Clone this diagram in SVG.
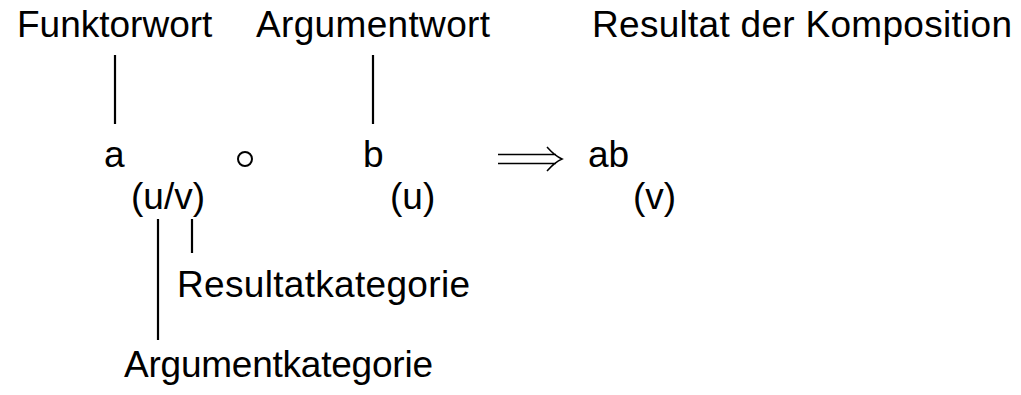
<svg xmlns="http://www.w3.org/2000/svg" width="1021" height="395" viewBox="0 0 1021 395">
  <style>
    text { font-family: "Liberation Sans", Arial, sans-serif; font-size: 37px; fill: #000; }
    .tick { stroke: #000; stroke-width: 2.2; fill: none; }
    .arrow { stroke: #000; stroke-width: 1.5; fill: none; }
  </style>
  <rect width="1021" height="395" fill="#fff"/>

  <!-- headings -->
  <g id="funktorwort"><text x="17" y="37">Funktorwort</text></g>
  <g id="argumentwort"><text x="256" y="37" textLength="234">Argumentwort</text></g>
  <g id="resultat"><text x="592" y="37" textLength="420">Resultat der Komposition</text></g>

  <!-- composition row -->
  <g id="a"><text x="104" y="167">a</text></g>
  <g id="op"><circle cx="245" cy="159" r="7" fill="none" stroke="#000" stroke-width="2"/></g>
  <g id="b"><text x="363" y="167">b</text></g>
  <g id="ab"><text x="588" y="167">ab</text></g>

  <!-- categories -->
  <g id="cat-uv"><text x="131" y="209">(u/v)</text></g>
  <g id="cat-u"><text x="390" y="209">(u)</text></g>
  <g id="cat-v"><text x="633" y="209">(v)</text></g>

  <g id="resultatkategorie"><text x="177" y="297" textLength="293">Resultatkategorie</text></g>
  <g id="argumentkategorie"><text x="124" y="377" textLength="309">Argumentkategorie</text></g>

  <!-- connectors -->
  <g id="connectors">
    <line class="tick" x1="115" y1="55" x2="115" y2="124"/>
    <line class="tick" x1="373" y1="55" x2="373" y2="124"/>
    <line class="tick" x1="158" y1="219" x2="158" y2="340"/>
    <line class="tick" x1="192" y1="219" x2="192" y2="253"/>
    <!-- long double arrow -->
    <path class="arrow" d="M498 154.5 H556 M498 163.5 H556 M547 147 Q555 156 562 159 Q555 162 547 171"/>
  </g>
</svg>
